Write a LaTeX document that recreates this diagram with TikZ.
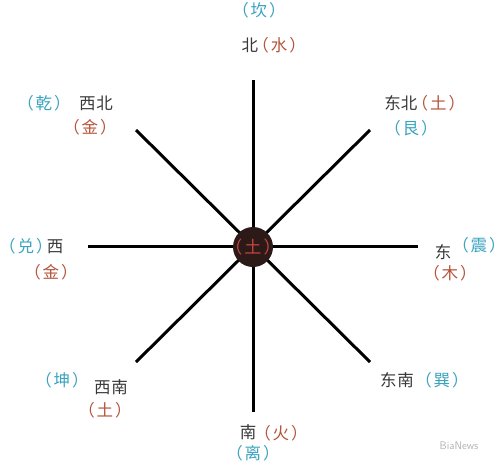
\documentclass[tikz,border=0pt]{standalone}
\usepackage{fontspec}
\newfontfamily\cjk{Noto Sans CJK SC}
\definecolor{teal1}{HTML}{3AA3BE}
\definecolor{red1}{HTML}{B5533A}
\definecolor{ink}{HTML}{383838}
\definecolor{disk}{HTML}{2B1A18}
\definecolor{center}{HTML}{C8443C}
\newcommand\pr[1]{\kern-0.45em（\kern0.12em#1\kern0.12em）\kern-0.45em}
\begin{document}
\begin{tikzpicture}[x=1pt,y=-1pt,
  lbl/.style={font=\cjk\fontsize{16.5}{18}\selectfont, inner sep=0pt, text=ink},
  tl/.style={lbl, text=teal1},
  rd/.style={lbl, text=red1},
  ray/.style={line width=3pt, black}]
\useasboundingbox (0,0) rectangle (500,466);
\coordinate (c) at (253,246);
\coordinate (n) at (253,80);
\coordinate (s) at (253,412);
\coordinate (w) at (88,246);
\coordinate (e) at (418,246);
\coordinate (ne) at (370,130);
\coordinate (nw) at (136,130);
\coordinate (se) at (370,362);
\coordinate (sw) at (136,362);
\foreach \p in {n,s,w,e,ne,nw,se,sw} \draw[ray] (c) -- (\p);
\node[circle, fill=disk, minimum size=40pt, inner sep=0pt] (hub) at (253,247) {};
\node[lbl, text=center, font=\cjk\fontsize{17}{18}\selectfont] (hubt) at (hub) {\pr{土}};
% north
\node[tl] (kan) at (259,10) {\pr{坎}};
\node[lbl] (bei) at (270,45) {北\kern0.1em\textcolor{red1}{\pr{水}}};
% northwest
\node[tl] (qian) at (44,103) {\pr{乾}};
\node[lbl] (xibei) at (96,103) {西\kern1pt 北};
\node[rd] (jin1) at (90,127) {\pr{金}};
% northeast
\node[lbl] (dongbei) at (421,103) {东北\kern0.1em\textcolor{red1}{\pr{土}}};
\node[tl] (gen) at (411,128) {\pr{艮}};
% west
\node[lbl] (dui) at (35,246) {\textcolor{teal1}{\pr{兑}}\kern0.1em 西};
\node[rd] (jin2) at (51,272) {\pr{金}};
% east
\node[lbl] (dong) at (443,252) {东};
\node[tl] (zhen) at (479,245) {\pr{震}};
\node[rd] (mu) at (450,273) {\pr{木}};
% southwest
\node[tl] (kun) at (62,380) {\pr{坤}};
\node[lbl] (xinan) at (111,387) {西\kern1pt 南};
\node[rd] (tu2) at (105,410) {\pr{土}};
% southeast
\node[lbl] (dongnan) at (397,380) {东\kern1pt 南};
\node[tl] (xun) at (442,380) {\pr{巽}};
% south
\node[lbl] (nan) at (248,432) {南};
\node[rd] (huo) at (281,433) {\pr{火}};
\node[tl] (li) at (253,453) {\pr{离}};
% watermark
\node[font=\sffamily\fontsize{11}{13}\selectfont, text=black!30, inner sep=0pt] (wm) at (459,446) {BiaNews};
\end{tikzpicture}
\end{document}
